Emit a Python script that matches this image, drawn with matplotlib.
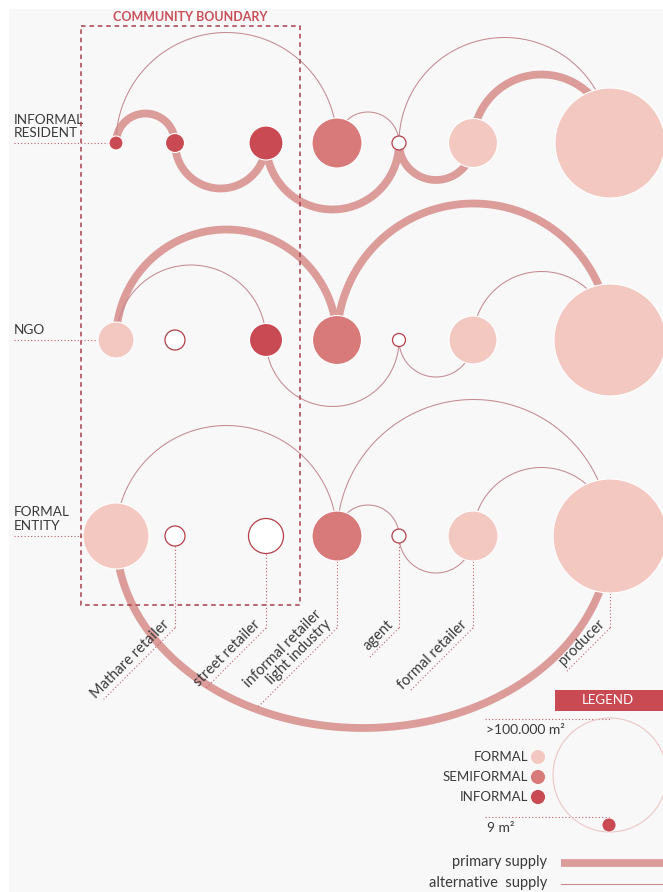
import numpy as np
import matplotlib.pyplot as plt
from matplotlib.patches import Circle, Rectangle

plt.rcParams['font.family'] = ['Lato', 'DejaVu Sans']

# supply chain columns (left to right) and actor rows
col_x = [116, 175, 266, 337, 399, 473, 610]
col_labels = ["", "Mathare retailer", "street retailer",
              "informal retailer\nlight industry", "agent",
              "formal retailer", "producer"]

actors = ["INFORMAL\nRESIDENT", "NGO", "FORMAL\nENTITY"]
row_y = [143, 340, 536]

# F formal, S semiformal, I informal, O not involved
node_types = [
    ["I", "I", "I", "S", "O", "F", "F"],
    ["F", "O", "I", "S", "O", "F", "F"],
    ["F", "O", "O", "S", "O", "F", "F"],
]
# node radius ~ size of the premises
node_r = [
    [7, 9.5, 17, 25, 7, 24.5, 55],
    [18, 10, 16.5, 24.5, 6.5, 24, 56],
    [33, 10, 17.5, 25, 7, 25, 57],
]

# links (from column, to column, arc side)
primary = [
    [(0, 1, "up"), (1, 2, "down"), (2, 4, "down"), (4, 5, "down"), (5, 6, "up")],
    [(0, 3, "up"), (3, 6, "up")],
    [(0, 6, "down")],
]
alternative = [
    [(0, 3, "up"), (3, 4, "up"), (4, 6, "up")],
    [(0, 2, "up"), (2, 4, "down"), (4, 5, "down"), (5, 6, "up")],
    [(0, 3, "up"), (3, 4, "up"), (3, 6, "up"), (4, 5, "down"), (5, 6, "up")],
]

legend_types = ["F", "S", "I"]
legend_names = ["FORMAL", "SEMIFORMAL", "INFORMAL"]

fills = {"F": "#f3c8c1", "S": "#d97a7a", "I": "#c94a53"}
thick_col = "#dc9c9a"
thin_col = "#c48a92"
dot_col = "#c0606a"
txt_col = "#3a3a3a"
red = "#c94a52"
MAX_DEPTH = 192

fig = plt.figure(figsize=(6.63, 8.92), dpi=100)
ax = fig.add_axes([0, 0, 1, 1])
ax.set_xlim(0, 663)
ax.set_ylim(892, 0)
ax.axis('off')
ax.add_patch(Rectangle((9, 9), 660, 890, fc="#f8f8f8", ec="none", zorder=0))


def arc(y0, xa, xb, side, **kw):
    cx = (xa + xb) / 2
    r = abs(xb - xa) / 2
    h = min(r, MAX_DEPTH)
    t = np.linspace(0, np.pi, 300)
    s = -1 if side == "up" else 1
    ax.plot(cx - r * np.cos(t), y0 + s * h * np.sin(t), solid_capstyle='butt', **kw)


for i, y in enumerate(row_y):
    for a, b, side in primary[i]:
        arc(y, col_x[a], col_x[b], side, color=thick_col, lw=5.6, zorder=2)
    for a, b, side in alternative[i]:
        arc(y, col_x[a], col_x[b], side, color=thin_col, lw=0.75, zorder=2)
    for j, x in enumerate(col_x):
        t = node_types[i][j]
        if t == "O":
            ax.add_patch(Circle((x, y), node_r[i][j], fc="white", ec="#b4404a", lw=0.9, zorder=4))
        else:
            ax.add_patch(Circle((x, y), node_r[i][j], fc=fills[t], ec="white", lw=0.8, zorder=4))
    # actor label with dotted leader
    first = col_x[0] - node_r[i][0] - 1
    ax.plot([14, first], [y, y], color=dot_col, lw=0.8, ls=(0, (1, 2)), zorder=3)
    ax.text(14, y - 4, actors[i], ha='left', va='bottom', fontsize=9.8,
            color=txt_col, linespacing=1.15)

# community boundary
ax.add_patch(Rectangle((81, 26), 219, 579, fill=False, ec="#a8404c", lw=1.1,
                       ls=(0, (3, 2.5)), zorder=5))
ax.text(190, 17, "COMMUNITY BOUNDARY", ha='center', va='center', fontsize=9,
        fontweight='bold', color="#c9505a")

# column labels under the last row
fig.canvas.draw()
renderer = fig.canvas.get_renderer()
yb = 628
for j, x in enumerate(col_x):
    if not col_labels[j]:
        continue
    y0 = row_y[2] + node_r[2][j]
    ax.plot([x, x], [y0, yb], color=dot_col, lw=0.8, ls=(0, (1, 2)), zorder=3)
    t = ax.text(x - 3, yb - 1, col_labels[j], rotation=45, rotation_mode='anchor',
                ha='right', va='bottom', multialignment='right', fontsize=10.5,
                color=txt_col, linespacing=0.95)
    bw = t.get_window_extent(renderer).width * 0.85
    ax.plot([x, x - bw], [yb, yb + bw], color=dot_col, lw=0.8, ls=(0, (1, 2)), zorder=3)

# legend
ax.add_patch(Rectangle((555, 690), 108, 21, fc=red, ec="none", zorder=5))
ax.text(608, 700.5, "LEGEND", ha='center', va='center', fontsize=9.5, color="white", zorder=6)
ax.add_patch(Circle((610, 775), 57, fill=False, ec="#ecc6c6", lw=0.8, zorder=3))
ax.plot([485, 610], [719, 719], color=dot_col, lw=0.8, ls=(0, (1, 2)))
ax.text(486, 730, ">100.000 m²", ha='left', va='center', fontsize=10, color=txt_col)
ax.plot([485, 610], [817, 817], color=dot_col, lw=0.8, ls=(0, (1, 2)))
ax.text(487, 828, "9 m²", ha='left', va='center', fontsize=10, color=txt_col)
ax.add_patch(Circle((609, 825), 7, fc=fills["I"], ec="white", lw=0.6, zorder=4))
for k, (t, name) in enumerate(zip(legend_types, legend_names)):
    yy = 757 + k * 20
    ax.add_patch(Circle((538, yy), 7.5, fc=fills[t], ec="white", lw=0.6, zorder=4))
    ax.text(528, yy, name, ha='right', va='center', fontsize=9.5, color=txt_col)

ax.plot([561, 663], [863, 863], color=thick_col, lw=5.6, solid_capstyle='butt')
ax.text(547, 862, "primary supply", ha='right', va='center', fontsize=10.5, color=txt_col)
ax.plot([561, 663], [884, 884], color=thin_col, lw=0.75)
ax.text(547, 883, "alternative  supply", ha='right', va='center', fontsize=10.5, color=txt_col)

fig.savefig("out.png", dpi=100, facecolor="white")
